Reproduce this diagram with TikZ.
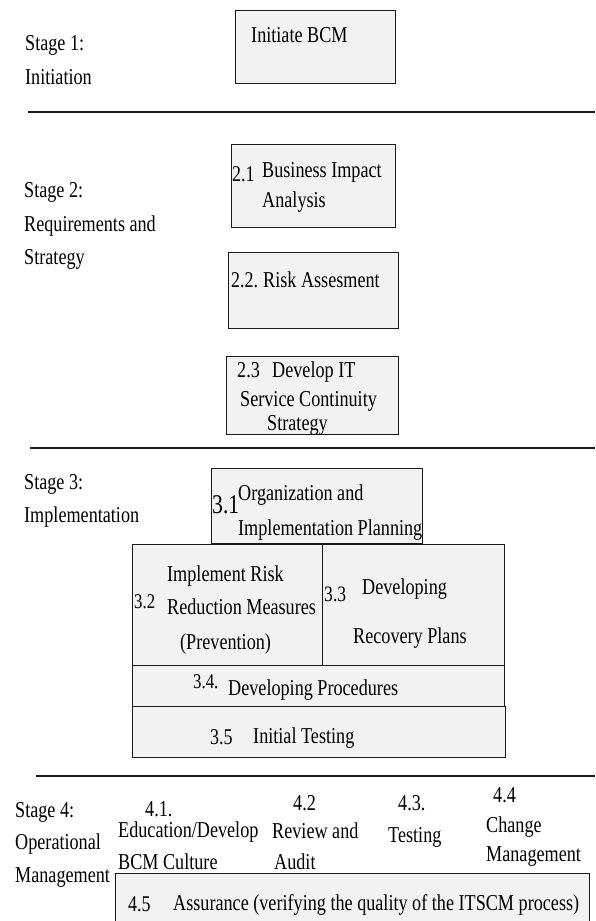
\documentclass[tikz,border=0pt]{standalone}
\usepackage{fontspec}
\setmainfont{Liberation Serif}[FakeStretch=0.8]
\definecolor{fundo}{HTML}{F2F2F2}
\definecolor{traco}{HTML}{1A1A1A}

\begin{document}
\begin{tikzpicture}[x=1pt, y=-1pt,
		caixa/.style={draw=traco, line width=1.3pt, fill=fundo, anchor=north west, inner sep=0pt},
		texto/.style={anchor=base west, inner sep=0pt, font=\fontsize{22.7}{30}\selectfont},
		numero/.style={texto, font=\fontsize{#1}{#1}\selectfont},
		divisao/.style={draw=traco, line width=1.8pt}]
		\useasboundingbox (0,0) rectangle (595,921);
		\node[caixa, minimum width=160pt, minimum height=73pt] (initiate) at (235,10) {};
		\node[caixa, minimum width=164pt, minimum height=83pt] (bia) at (231,144) {};
		\node[caixa, minimum width=170pt, minimum height=76pt] (risco) at (228,252) {};
		\node[caixa, minimum width=172pt, minimum height=78pt] (estrategia) at (226,356) {};
		\node[caixa, minimum width=211pt, minimum height=75pt] (organizacao) at (211,468) {};
		\node[caixa, minimum width=190pt, minimum height=121pt] (prevencao) at (132,544) {};
		\node[caixa, minimum width=182pt, minimum height=121pt] (recuperacao) at (322,544) {};
		\node[caixa, minimum width=372pt, minimum height=41pt] (procedimentos) at (132,665) {};
		\node[caixa, minimum width=373pt, minimum height=51pt] (teste) at (132,706) {};
		\node[caixa, minimum width=474pt, minimum height=60pt] (garantia) at (115,873) {};
		\coordinate (linha1a) at (28,112);
		\coordinate (linha1b) at (595,112);
		\coordinate (linha2a) at (30,448);
		\coordinate (linha2b) at (595,448);
		\coordinate (linha3a) at (36,776);
		\coordinate (linha3b) at (595,776);
		\draw[divisao] (linha1a) -- (linha1b);
		\draw[divisao] (linha2a) -- (linha2b);
		\draw[divisao] (linha3a) -- (linha3b);
		\node[texto] (stage1) at (25,50) {Stage 1:};
		\node[texto] (stage1linha2) at (25,84) {Initiation};
		\node[texto] (initiatetexto) at (251,42) {Initiate BCM};
		\node[texto] (stage2) at (24,197) {Stage 2:};
		\node[texto] (stage2linha2) at (24,231) {Requirements and};
		\node[texto] (stage2linha3) at (24,264) {Strategy};
		\node[numero=22.5] (bianum) at (232,181) {2.1};
		\node[texto] (bialinha1) at (262,177) {Business Impact};
		\node[texto] (bialinha2) at (262,207) {Analysis};
		\node[numero=22.5] (risconum) at (231,287) {2.2.};
		\node[texto] (riscolinha1) at (263,287) {Risk Assesment};
		\node[texto] (estrategianum) at (237,377) {2.3};
		\node[texto] (estrategialinha1) at (272,377) {Develop IT};
		\node[texto] (estrategialinha2) at (240,406) {Service Continuity};
		\node[texto] (estrategialinha3) at (267,430) {Strategy};
		\node[texto] (stage3) at (24,489) {Stage 3:};
		\node[texto] (stage3linha2) at (24,522) {Implementation};
		\node[numero=27] (organizacaonum) at (212,513) {3.1};
		\node[texto] (organizacaolinha1) at (238,500) {Organization and};
		\node[texto] (organizacaolinha2) at (238,535) {Implementation Planning};
		\node[numero=21] (prevencaonum) at (134,608) {3.2};
		\node[texto] (prevencaolinha1) at (167,581) {Implement Risk};
		\node[texto] (prevencaolinha2) at (167,614) {Reduction Measures};
		\node[texto] (prevencaolinha3) at (180,649) {(Prevention)};
		\node[numero=22] (recuperacaonum) at (324,601) {3.3};
		\node[texto] (recuperacaolinha1) at (362,594) {Developing};
		\node[texto] (recuperacaolinha2) at (353,643) {Recovery Plans};
		\node[numero=21] (procedimentosnum) at (193,688) {3.4.};
		\node[texto] (procedimentoslinha1) at (228,695) {Developing Procedures};
		\node[numero=22.5] (testenum) at (210,744) {3.5};
		\node[texto] (testelinha1) at (253,743) {Initial Testing};
		\node[texto] (stage4) at (15,817) {Stage 4:};
		\node[texto] (stage4linha2) at (15,849) {Operational};
		\node[texto] (stage4linha3) at (15,882) {Management};
		\node[texto] (educacaonum) at (145,816) {4.1.};
		\node[texto] (educacaolinha1) at (118,837) {Education/Develop};
		\node[texto] (educacaolinha2) at (118,869) {BCM Culture};
		\node[texto] (revisaonum) at (293,810) {4.2};
		\node[texto] (revisaolinha1) at (272,838) {Review and};
		\node[texto] (revisaolinha2) at (274,869) {Audit};
		\node[texto] (testesnum) at (398,810) {4.3.};
		\node[texto] (testeslinha1) at (388,842) {Testing};
		\node[texto] (mudancanum) at (493,802) {4.4};
		\node[texto] (mudancalinha1) at (486,832) {Change};
		\node[texto] (mudancalinha2) at (486,861) {Management};
		\node[numero=22.5] (garantianum) at (128,911) {4.5};
		\node[texto] (garantialinha1) at (173,910) {Assurance (verifying the quality of the ITSCM process)};
\end{tikzpicture}
\end{document}
